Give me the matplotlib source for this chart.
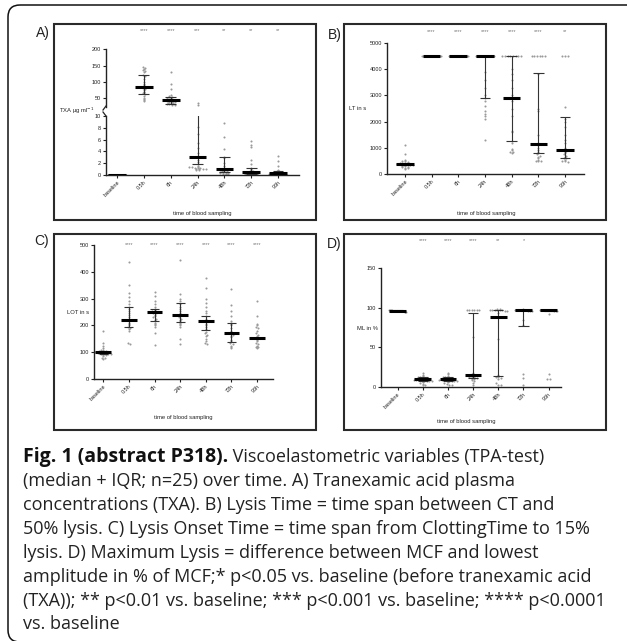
import numpy as np
import matplotlib.pyplot as plt
from matplotlib.transforms import Affine2D, blended_transform_factory
from matplotlib.patches import Rectangle, FancyBboxPatch

plt.rcParams['font.family'] = ['Liberation Sans', 'DejaVu Sans']

times = ['baseline', '0.5h', '6h', '24h', '48h', '72h', '96h']

# A) TXA plasma concentration (ug/ml)
txa_pts = [
    [0, 0, 0, 0, 0, 0, 0, 0, 0, 0, 0, 0, 0, 0, 0, 0, 0, 0, 0, 0],
    [145, 142, 140, 138, 135, 130, 122, 118, 110, 100, 95, 90, 85, 82, 80, 75, 70, 68, 65, 62, 58, 52, 48, 45, 42],
    [132, 95, 78, 60, 57, 55, 52, 50, 49, 48, 46, 45, 44, 43, 42, 40, 39, 38, 37, 36, 35, 34, 33, 31, 30],
    [35, 30, 8.2, 7.0, 5.4, 4.6, 3.8, 3.2, 3.0, 2.6, 2.2, 1.8, 1.5, 1.4, 1.3, 1.3, 1.2, 1.2, 1.2, 1.1, 1.1, 1.0, 1.0, 0.9, 0.9],
    [8.8, 6.4, 4.4, 3.1, 2.8, 2.0, 1.6, 1.2, 1.0, 0.9, 0.9, 0.8, 0.7, 0.6, 0.6, 0.5, 0.5, 0.4, 0.4, 0.3, 0.3, 0.2, 0.2, 0.1, 0.1],
    [5.8, 5.0, 4.8, 2.5, 1.8, 1.2, 1.0, 0.8, 0.7, 0.6, 0.5, 0.5, 0.4, 0.4, 0.3, 0.3, 0.2, 0.2, 0.2, 0.1, 0.1, 0.1, 0.0, 0.0, 0.0],
    [3.3, 2.4, 1.6, 0.8, 0.7, 0.6, 0.5, 0.5, 0.4, 0.4, 0.3, 0.3, 0.3, 0.2, 0.2, 0.2, 0.1, 0.1, 0.1, 0.0, 0.0, 0.0, 0.0, 0.0, 0.0],
]
txa_med = [0, 84, 45, 3.0, 0.95, 0.5, 0.3]
txa_q1 = [0, 62, 33, 1.8, 0.5, 0.2, 0.1]
txa_q3 = [0, 121, 53, 12.0, 3.1, 1.2, 0.6]
txa_stars = ['', '****', '****', '***', '**', '**', '**']

# B) Lysis time (s)
lt_pts = [
    [1100, 750, 550, 500, 480, 450, 430, 420, 410, 400, 400, 390, 380, 370, 360, 350, 340, 330, 320, 300, 280, 260, 240, 220, 200],
    [4500, 4500, 4500, 4500, 4500, 4500, 4500, 4500, 4500, 4500],
    [4500, 4500, 4500, 4500, 4500, 4500, 4500, 4500, 4500, 4500],
    [4500, 4500, 4500, 4500, 4500, 4500, 4500, 4500, 4500, 4500, 4500, 4500, 4500,
     3900, 3600, 3300, 3000, 2900, 2800, 2600, 2400, 2300, 2200, 2100, 1300],
    [4500, 4500, 4500, 4500, 4500, 4500, 4500, 4500, 4000, 3800, 3600, 3300, 3000,
     2800, 2500, 2200, 1650, 1600, 1250, 1200, 950, 900, 850, 850, 800],
    [4500, 4500, 4500, 4500, 4500, 4500, 3800, 2500, 2400, 1500, 1200, 1150, 1100,
     1000, 900, 850, 800, 750, 700, 650, 600, 550, 500, 500, 500],
    [4500, 4500, 4500, 2550, 2100, 2000, 1800, 1500, 1300, 1200, 1000, 950, 900,
     880, 850, 800, 750, 700, 650, 600, 600, 550, 500, 500, 450],
]
lt_med = [400, 4500, 4500, 4500, 2900, 1150, 900]
lt_q1 = [340, 4500, 4500, 2910, 1260, 790, 620]
lt_q3 = [430, 4500, 4500, 4500, 4500, 3870, 2160]
lt_stars = ['', '****', '****', '****', '****', '****', '**']

# C) Lysis onset time (s)
lot_pts = [
    [180, 135, 125, 115, 110, 108, 105, 103, 102, 100, 100, 99, 98, 97, 96, 95, 94, 93, 92, 90, 88, 85, 80, 78, 75],
    [435, 350, 320, 305, 290, 280, 270, 262, 255, 245, 240, 232, 225, 220, 215, 210, 205, 200, 195, 190, 185, 180, 135, 130],
    [325, 310, 290, 280, 270, 262, 258, 255, 252, 250, 248, 245, 240, 235, 230, 225, 220, 215, 210, 205, 200, 195, 170, 128],
    [445, 318, 300, 290, 280, 270, 262, 255, 248, 240, 235, 230, 225, 220, 215, 210, 205, 200, 195, 150, 130],
    [375, 340, 300, 285, 270, 255, 245, 235, 225, 218, 212, 205, 200, 195, 185, 175, 170, 165, 160, 150, 140, 135, 130],
    [335, 275, 255, 235, 215, 210, 205, 200, 190, 180, 170, 165, 160, 155, 145, 140, 135, 130, 125, 120, 115],
    [290, 235, 205, 200, 195, 190, 180, 170, 165, 160, 155, 150, 145, 140, 135, 130, 125, 120, 118, 115],
]
lot_med = [100, 222, 250, 238, 216, 170, 154]
lot_q1 = [95, 195, 218, 213, 183, 139, 154]
lot_q3 = [105, 270, 263, 285, 235, 210, 154]
lot_stars = ['', '****', '****', '****', '****', '****', '****']

# D) Maximum lysis (%)
ml_pts = [
    [97, 97, 97, 97, 96, 96, 96, 96, 96, 96, 96, 96, 96, 96, 96, 96, 96, 95, 95, 95],
    [18, 15, 14, 13, 12, 12, 11, 11, 10, 10, 10, 9, 9, 9, 8, 8, 8, 7, 7, 6, 5, 4, 3, 2],
    [18, 16, 14, 13, 12, 12, 11, 11, 10, 10, 10, 9, 9, 9, 8, 8, 8, 7, 7, 6, 5, 4, 3, 3],
    [97, 97, 97, 97, 97, 97, 63, 18, 17, 15, 14, 13, 12, 12, 11, 10, 10, 9, 8, 5, 2],
    [98, 98, 97, 97, 97, 97, 97, 97, 96, 96, 93, 60, 15, 14, 13, 12, 11, 10, 5, 3, 3],
    [98, 97, 97, 97, 97, 97, 97, 97, 96, 96, 96, 85, 78, 16, 11, 3],
    [97, 97, 97, 97, 97, 97, 97, 97, 96, 96, 96, 92, 17, 10, 10],
]
ml_med = [96, 10, 10, 15, 88, 97, 97]
ml_q1 = [96, 7, 7, 11, 13.5, 77, 96]
ml_q3 = [97, 12, 12, 93, 97, 97, 97]
ml_stars = ['', '****', '****', '****', '**', '*', '']

caption = [
    "(median + IQR; n=25) over time. A) Tranexamic acid plasma",
    "concentrations (TXA). B) Lysis Time = time span between CT and",
    "50% lysis. C) Lysis Onset Time = time span from ClottingTime to 15%",
    "lysis. D) Maximum Lysis = difference between MCF and lowest",
    "amplitude in % of MCF;* p<0.05 vs. baseline (before tranexamic acid",
    "(TXA)); ** p<0.01 vs. baseline; *** p<0.001 vs. baseline; **** p<0.0001",
    "vs. baseline",
]

W, H = 627, 641
fig = plt.figure(figsize=(W / 100, H / 100), dpi=100)
# pixel coordinates with origin at top-left
pix = Affine2D().scale(1 / 100, -1 / 100).translate(0, H / 100) + fig.dpi_scale_trans


def add_ax(x0, y0, x1, y1):
    ax = fig.add_axes([x0 / W, 1 - y1 / H, (x1 - x0) / W, (y1 - y0) / H])
    ax.set_facecolor('none')
    for s in ['top', 'right']:
        ax.spines[s].set_visible(False)
    for s in ['left', 'bottom']:
        ax.spines[s].set_linewidth(1.0)
        ax.spines[s].set_color('#222')
    ax.tick_params(labelsize=4, length=2.5, width=0.8, pad=1, colors='#222')
    return ax


def swarm(vals, step, dx=0.1, maxw=0.7):
    vals = np.asarray(vals, float)
    bins = np.round(vals / step)
    off = np.zeros(len(vals))
    for b in np.unique(bins):
        idx = np.where(bins == b)[0]
        n = len(idx)
        d = dx if n < 2 else min(dx, maxw / (n - 1))
        off[idx] = (np.arange(n) - (n - 1) / 2) * d
    return off


def draw_groups(ax, pts, med, q1, q3, step, mw=0.66, cw=0.4):
    for i, vals in enumerate(pts):
        xs = i + swarm(vals, step)
        ax.plot(xs, vals, 'o', ms=1.5, mfc='#9a9a9a', mec='none', zorder=2)
        ax.vlines(i, q1[i], q3[i], color='#333', lw=0.8, zorder=3)
        ax.hlines([q1[i], q3[i]], i - cw / 2, i + cw / 2, color='#333', lw=0.8, zorder=3)
        ax.hlines(med[i], i - mw / 2, i + mw / 2, color='k', lw=2.2, zorder=4)


def xaxis_labels(ax):
    ax.set_xticks(range(len(times)))
    ax.set_xticklabels(times, rotation=45, ha='right', rotation_mode='anchor')


def stars(ax, labels, y):
    tr = blended_transform_factory(ax.transData, pix)
    for i, s in enumerate(labels):
        if s:
            ax.text(i, y, s, transform=tr, ha='center', va='center',
                    fontsize=4, color='#777')


def ftext(x, y, s, **kw):
    fig.text(x, y, s, transform=pix, **kw)


# outer frame and panel frames
fig.add_artist(FancyBboxPatch((8, 5), 640, 637, boxstyle='round,pad=0,rounding_size=12',
                              transform=pix, fill=False, lw=1.1, ec='#111'))
panels = [(54, 24, 316, 220), (344, 24, 606, 220), (54, 234, 316, 430), (344, 234, 606, 430)]
for x0, y0, x1, y1 in panels:
    fig.add_artist(Rectangle((x0, y0), x1 - x0, y1 - y0, transform=pix,
                             fill=False, lw=1.5, ec='#2a2a2a'))

for lab, (x, y) in zip(['A)', 'B)', 'C)', 'D)'], [(36, 33), (328, 35), (34, 241), (327, 244)]):
    ftext(x, y, lab, fontsize=10, va='center', ha='left', color='#222')

# ---- A: broken y axis
axa_hi = add_ax(106, 49.3, 299, 106.5)
axa_lo = add_ax(106, 116, 299, 175)
xl = (-0.41, 6.78)
axa_hi.set_xlim(xl)
axa_lo.set_xlim(xl)
axa_hi.set_ylim(25, 200)
axa_lo.set_ylim(0, 10)
axa_hi.spines['bottom'].set_visible(False)
axa_hi.set_xticks([])
axa_hi.set_yticks([50, 100, 150, 200])
axa_lo.set_yticks([0, 2, 4, 6, 8, 10])
draw_groups(axa_hi, txa_pts, txa_med, txa_q1, txa_q3, 4)
draw_groups(axa_lo, txa_pts, txa_med, txa_q1, txa_q3, 0.2)
xaxis_labels(axa_lo)
stars(axa_hi, txa_stars, 31)
fig.add_artist(plt.Line2D([106, 103], [106, 110], transform=pix, lw=0.9, color='#222'))
fig.add_artist(plt.Line2D([103, 106], [112, 116], transform=pix, lw=0.9, color='#222'))
ftext(59, 111, 'TXA µg ml$^{-1}$', fontsize=4.2, va='center', color='#222')
ftext(202, 213, 'time of blood sampling', fontsize=4.2, ha='center', va='center', color='#222')

# ---- B
axb = add_ax(387, 43, 584, 174)
axb.set_xlim(-0.67, 6.71)
axb.set_ylim(0, 5000)
axb.set_yticks(range(0, 5001, 1000))
draw_groups(axb, lt_pts, lt_med, lt_q1, lt_q3, 60)
xaxis_labels(axb)
stars(axb, lt_stars, 32)
ftext(349, 109, 'LT in s', fontsize=4.2, va='center', color='#222')
ftext(486, 213, 'time of blood sampling', fontsize=4.2, ha='center', va='center', color='#222')

# ---- C
axc = add_ax(94, 245, 273, 379)
axc.set_xlim(-0.36, 6.62)
axc.set_ylim(0, 500)
axc.set_yticks(range(0, 501, 100))
draw_groups(axc, lot_pts, lot_med, lot_q1, lot_q3, 6, mw=0.62, cw=0.36)
xaxis_labels(axc)
stars(axc, lot_stars, 245)
ftext(67, 313, 'LOT in s', fontsize=4.2, va='center', color='#222')
ftext(183, 418, 'time of blood sampling', fontsize=4.2, ha='center', va='center', color='#222')

# ---- D
axd = add_ax(381, 268, 561, 387)
axd.set_xlim(-0.66, 6.49)
axd.set_ylim(0, 150)
axd.set_yticks([0, 50, 100, 150])
draw_groups(axd, ml_pts, ml_med, ml_q1, ml_q3, 2)
xaxis_labels(axd)
stars(axd, ml_stars, 241)
ftext(357, 328, 'ML in %', fontsize=4.2, va='center', color='#222')
ftext(466, 422, 'time of blood sampling', fontsize=4.2, ha='center', va='center', color='#222')

# ---- caption
cfs = 12.95
bold = fig.text(23, 462, 'Fig. 1 (abstract P318).', transform=pix, fontsize=14,
                fontweight='bold', family='Open Sans', color='#111')
r = fig.canvas.get_renderer()
bw = bold.get_window_extent(r).width
ftext(23 + bw, 462, ' Viscoelastometric variables (TPA-test)', fontsize=cfs,
      family='Open Sans', color='#222')
for k, line in enumerate(caption):
    ftext(23, 486 + k * 23.9, line, fontsize=cfs, family='Open Sans', color='#222')

fig.savefig('out.png', dpi=100)
